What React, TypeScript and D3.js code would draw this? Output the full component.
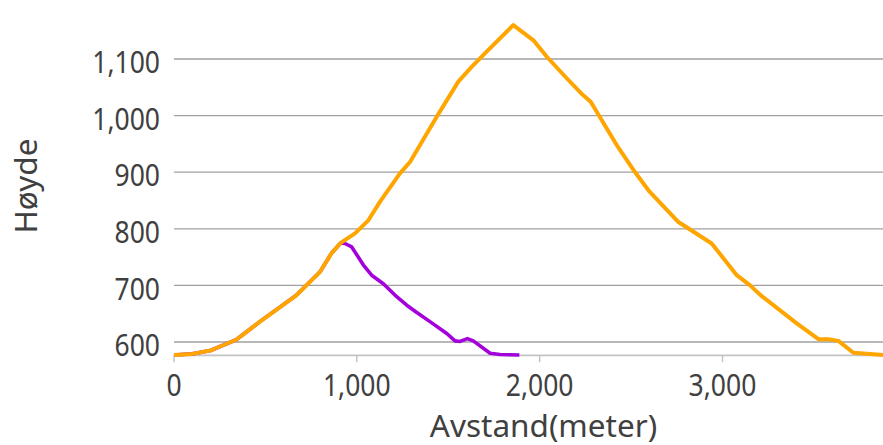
import React from "react";
import * as d3 from "d3";

const orangeDist = [0, 100, 200, 340, 470, 671, 799, 862, 912, 990, 1063, 1127, 1236, 1291, 1437, 1555, 1628, 1710, 1856, 1966, 2039, 2148, 2225, 2280, 2427, 2513, 2600, 2759, 2941, 3005, 3078, 3151, 3215, 3406, 3525, 3579, 3634, 3716, 3807, 3878];
const orangeElev = [577, 579, 585, 604, 636, 683, 724, 757, 775, 792, 815, 848, 898, 918, 998, 1060, 1086, 1113, 1160, 1133, 1104, 1066, 1040, 1024, 945, 904, 866, 812, 774, 748, 718, 700, 681, 633, 605, 605, 602, 581, 579, 577];

const purpleDist = [0, 100, 200, 340, 470, 671, 799, 862, 912, 935, 972, 1036, 1081, 1145, 1218, 1273, 1328, 1400, 1492, 1537, 1565, 1605, 1637, 1729, 1783, 1889];
const purpleElev = [577, 579, 585, 604, 636, 683, 724, 757, 775, 774, 768, 736, 718, 703, 680, 665, 652, 636, 615, 602, 601, 606, 602, 580, 578, 577];

const yTicks = [600, 700, 800, 900, 1000, 1100];
const xTicks = [0, 1000, 2000, 3000];
const xTitle = "Avstand(meter)";
const yTitle = "Høyde";

const W = 883;
const H = 445;
const FONT = "'Noto Sans', 'DejaVu Sans', sans-serif";
const TEXT = "#404040";

export default function App() {
  const x = d3.scaleLinear().domain([0, 3878]).range([174, 883]);
  const y = d3.scaleLinear().domain([576.5, 1100]).range([355.3, 59]);
  const fmt = d3.format(",");

  const line = d3
    .line<[number, number]>()
    .x((d) => x(d[0]))
    .y((d) => y(d[1]));

  const orange = orangeDist.map((d, i) => [d, orangeElev[i]] as [number, number]);
  const purple = purpleDist.map((d, i) => [d, purpleElev[i]] as [number, number]);

  const [x0, x1] = x.range();
  const yBase = y(576.5);

  return (
    <svg
      width={W}
      height={H}
      style={{ position: "absolute", left: 0, top: 0, background: "#fff" }}
    >
      {yTicks.map((t) => (
        <g key={t}>
          <line x1={x0} x2={x1} y1={y(t)} y2={y(t)} stroke="#a0a0a0" strokeWidth={1.3} />
          <text
            x={160}
            y={y(t) + 2}
            textAnchor="end"
            dominantBaseline="central"
            fontFamily={FONT}
            fontSize={26.5}
            fill={TEXT}
            transform={`translate(0 ${y(t) + 2}) scale(1 1.15) translate(0 ${-(y(t) + 2)})`}
          >
            {fmt(t)}
          </text>
        </g>
      ))}
      <line x1={x0} x2={x1} y1={yBase} y2={yBase} stroke="#c4c4c4" strokeWidth={1.8} />
      {xTicks.map((t) => (
        <g key={t}>
          <line x1={x(t)} x2={x(t)} y1={yBase} y2={yBase + 7} stroke="#c4c4c4" strokeWidth={1.5} />
          <text
            x={x(t)}
            y={383.5}
            textAnchor="middle"
            dominantBaseline="central"
            fontFamily={FONT}
            fontSize={26.5}
            fill={TEXT}
            transform={`translate(0 383.5) scale(1 1.15) translate(0 -383.5)`}
          >
            {fmt(t)}
          </text>
        </g>
      ))}
      <path d={line(purple) || ""} fill="none" stroke="#a300dc" strokeWidth={3.6} strokeLinejoin="round" />
      <path d={line(orange) || ""} fill="none" stroke="#ffa500" strokeWidth={4} strokeLinejoin="round" />
      <text
        x={543.5}
        y={436.5}
        textAnchor="middle"
        fontFamily={FONT}
        fontSize={31.5}
        fill={TEXT}
      >
        {xTitle}
      </text>
      <text
        transform={`translate(36.5 186) rotate(-90)`}
        textAnchor="middle"
        fontFamily={FONT}
        fontSize={31.5}
        fill={TEXT}
      >
        {yTitle}
      </text>
    </svg>
  );
}
